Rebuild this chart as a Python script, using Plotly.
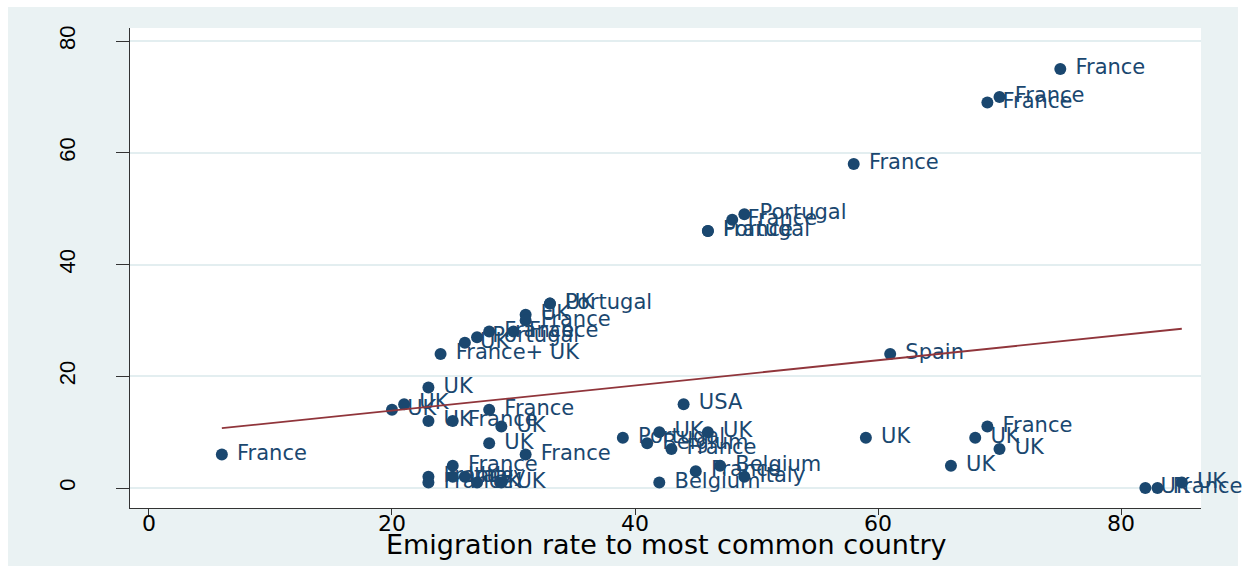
import plotly.graph_objects as go

# Emigration rate to the most common destination country (x),
# outcome share (y) and the destination country used as marker label
emig_rate = [75, 70, 69, 58, 49, 48, 46, 46, 33, 33,
             31, 31, 28, 30, 27, 26, 24, 61, 44, 23,
             21, 20, 28, 23, 25, 29, 28, 31, 6, 25,
             23, 23, 25, 26, 27, 29, 39, 42, 46, 41,
             43, 47, 45, 49, 42, 69, 68, 70, 59, 66,
             85, 82, 83]
share = [75, 70, 69, 58, 49, 48, 46, 46, 33, 33,
         31, 30, 28, 28, 27, 26, 24, 24, 15, 18,
         15, 14, 14, 12, 12, 11, 8, 6, 6, 4,
         2, 1, 2, 2, 1, 1, 9, 10, 10, 8,
         7, 4, 3, 2, 1, 11, 9, 7, 9, 4,
         1, 0, 0]
dest = ["France", "France", "France", "France", "Portugal", "France", "Portugal", "France", "UK", "Portugal",
        "UK", "France", "France", "France", "Portugal", "UK", "France+ UK", "Spain", "USA", "UK",
        "UK", "UK", "France", "UK", "France", "UK", "UK", "France", "France", "France",
        "France", "France", "Italy", "Italy", "UK", "UK", "Portugal", "UK", "UK", "Belgium",
        "France", "Belgium", "France", "Italy", "Belgium", "France", "UK", "UK", "UK", "UK",
        "UK", "UK", "France"]

# Linear fit line end points
fit_x = [6, 85]
fit_y = [10.7, 28.5]

x_ticks = [0, 20, 40, 60, 80]
y_ticks = [0, 20, 40, 60, 80]
x_title = "Emigration rate to most common country"

NAVY = "#1a476f"
MAROON = "#90353b"
REGION = "#eaf2f3"
AXIS = "#333333"

fig = go.Figure()

fig.add_trace(go.Scatter(
    x=emig_rate, y=share,
    mode="markers+text",
    text=["\u00a0" + d for d in dest],
    textposition="middle right",
    textfont=dict(family="DejaVu Sans", size=21, color=NAVY),
    marker=dict(size=12, color=NAVY, line=dict(width=0)),
    cliponaxis=False,
    showlegend=False,
))

fig.add_trace(go.Scatter(
    x=fit_x, y=fit_y,
    mode="lines",
    line=dict(color=MAROON, width=1.8),
    showlegend=False,
))

# graph region (light) with the white plot region on top
fig.add_shape(type="rect", xref="paper", yref="paper",
              x0=-0.1139, x1=1.0345, y0=-0.1208, y1=1.0438,
              fillcolor=REGION, line=dict(width=0), layer="below")
fig.add_shape(type="rect", xref="paper", yref="paper",
              x0=0, x1=1, y0=0, y1=1,
              fillcolor="white", line=dict(width=0), layer="below")

# x-axis title placed just under the tick labels
fig.add_annotation(
    text=x_title, xref="paper", yref="paper",
    x=0.5005, y=-0.077, xanchor="center", yanchor="middle",
    showarrow=False,
    font=dict(family="DejaVu Sans", size=27, color="black"),
)

fig.update_layout(
    width=1247, height=573,
    margin=dict(l=130, r=46, t=28, b=65, pad=0),
    paper_bgcolor="white",
    plot_bgcolor="white",
    xaxis=dict(
        range=[-1.56, 86.58],
        tickvals=x_ticks,
        ticks="outside", ticklen=6, tickwidth=1, tickcolor=AXIS,
        ticklabelstandoff=-10,
        showline=True, linecolor=AXIS, linewidth=1,
        showgrid=False, zeroline=False,
        tickfont=dict(family="DejaVu Sans", size=22, color="black"),
    ),
    yaxis=dict(
        range=[-3.58, 82.33],
        tickvals=y_ticks,
        ticks="outside", ticklen=13, tickwidth=1, tickcolor=AXIS,
        tickangle=-90,
        ticklabelstandoff=32,
        showline=True, linecolor=AXIS, linewidth=1,
        showgrid=True, gridcolor="#e3eef0", gridwidth=1.5,
        zeroline=False,
        tickfont=dict(family="Liberation Sans", size=22, color="black"),
    ),
)

fig.write_html("out.html")
